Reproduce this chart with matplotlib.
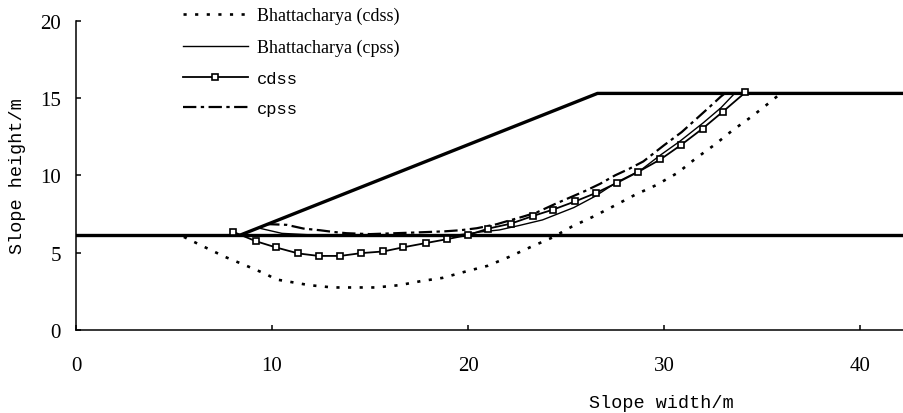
import matplotlib.pyplot as plt

# slope geometry (m)
ground_x = [0, 45]
ground_y = [6.15, 6.15]
slope_x = [8.4, 26.6, 45]
slope_y = [6.15, 15.3, 15.3]

# Bhattacharya (cdss)
bh_cdss_x = [5.5, 6.5, 7.6, 8.7, 9.7, 10.2, 10.8, 11.9, 13.1, 14.2, 15.3, 16.5, 17.6,
             18.7, 19.9, 21.0, 22.1, 23.2, 24.3, 25.3, 26.4, 27.5, 28.5, 29.6, 30.7,
             31.6, 32.6, 33.5, 34.5, 35.4, 35.9]
bh_cdss_y = [6.02, 5.40, 4.73, 4.15, 3.61, 3.27, 3.14, 2.90, 2.75, 2.75, 2.75, 2.90, 3.16,
             3.37, 3.79, 4.15, 4.73, 5.37, 5.98, 6.69, 7.34, 8.06, 8.73, 9.37, 10.17,
             11.08, 12.00, 12.92, 13.83, 14.73, 15.25]

# Bhattacharya (cpss)
bh_cpss_x = [9.3, 10.5, 12.0, 19.5, 20.7, 21.6, 22.65, 23.8, 25.4, 26.5, 27.6, 28.8,
             29.8, 30.8, 32.0, 32.9, 33.6]
bh_cpss_y = [6.60, 6.25, 6.15, 6.15, 6.35, 6.47, 6.77, 7.12, 7.92, 8.66, 9.57, 10.33,
             11.30, 12.20, 13.40, 14.37, 15.30]

# cdss
cdss_x = [8.03, 9.18, 10.20, 11.34, 12.38, 13.48, 14.54, 15.68, 16.70, 17.84, 18.91,
          20.02, 21.04, 22.19, 23.30, 24.35, 25.47, 26.52, 27.62, 28.66, 29.81, 30.85,
          31.97, 33.01, 34.15]
cdss_y = [6.34, 5.74, 5.34, 4.95, 4.79, 4.79, 4.97, 5.08, 5.35, 5.62, 5.87, 6.15, 6.56,
          6.88, 7.37, 7.79, 8.32, 8.86, 9.53, 10.21, 11.03, 11.95, 13.03, 14.13, 15.37]

# cpss
cpss_x = [9.7, 10.75, 11.6, 12.45, 13.13, 13.8, 15.0, 17.2, 18.8, 19.6, 20.44, 21.46,
          22.02, 22.8, 23.5, 24.44, 25.97, 26.73, 27.5, 28.23, 28.94, 30.0, 30.9, 31.6,
          32.3, 32.9, 33.1]
cpss_y = [6.85, 6.80, 6.56, 6.45, 6.34, 6.26, 6.20, 6.30, 6.38, 6.45, 6.58, 6.84,
          7.05, 7.33, 7.60, 8.15, 8.99, 9.45, 10.00, 10.43, 10.90, 11.95, 12.80, 13.60,
          14.40, 15.10, 15.30]

fig = plt.figure(figsize=(9.04, 4.14), dpi=100)
ax = fig.add_axes([0.0841, 0.2005, 0.9159, 0.747])

ax.plot(ground_x, ground_y, color='black', lw=2.4, zorder=3)
ax.plot(slope_x, slope_y, color='black', lw=2.4, zorder=3)

l1, = ax.plot(bh_cdss_x, bh_cdss_y, color='black', lw=1.9,
              linestyle=(0, (1.2, 3.2)), label='Bhattacharya (cdss)')
l2, = ax.plot(bh_cpss_x, bh_cpss_y, color='black', lw=1.0,
              label='Bhattacharya (cpss)')
l3, = ax.plot(cdss_x, cdss_y, color='black', lw=1.3, marker='s', markersize=5,
              markerfacecolor='white', markeredgewidth=1.2, zorder=4, label='cdss')
l4, = ax.plot(cpss_x, cpss_y, color='black', lw=1.6,
              linestyle=(0, (6, 2, 1.5, 2)), label='cpss')

ax.set_xlim(0, 42.24)
ax.set_ylim(0, 20)
ax.set_xticks([0, 10, 20, 30, 40])
ax.set_yticks([0, 5, 10, 15, 20])

for s in ['top', 'right']:
    ax.spines[s].set_visible(False)
for s in ['left', 'bottom']:
    ax.spines[s].set_linewidth(1.1)

ax.tick_params(direction='in', length=3.6, width=1.1)
ax.tick_params(axis='x', pad=19)
ax.tick_params(axis='y', pad=11)
for lab in ax.get_xticklabels() + ax.get_yticklabels():
    lab.set_fontfamily('Liberation Serif')
    lab.set_fontsize(15)

ax.set_xlabel('Slope width/m', fontfamily='Liberation Mono', fontsize=13.3)
ax.set_ylabel('Slope height/m', fontfamily='Liberation Mono', fontsize=13.3)
ax.xaxis.set_label_coords(0.7065, -0.207)
ax.yaxis.set_label_coords(-0.06, 0.5)

leg = ax.legend(handles=[l1, l2, l3, l4], loc='upper left',
                bbox_to_anchor=(183 / 904, 1 - 8 / 414),
                bbox_transform=fig.transFigure, frameon=False,
                fontsize=13, handlelength=3.6, handletextpad=0.5,
                labelspacing=0.8, borderpad=0, borderaxespad=0)
for i, t in enumerate(leg.get_texts()):
    if i < 2:
        t.set_fontfamily('Liberation Serif')
        t.set_fontsize(13)
    else:
        t.set_fontfamily('Liberation Mono')
        t.set_fontsize(12.3)

fig.savefig('out.png', dpi=100)
